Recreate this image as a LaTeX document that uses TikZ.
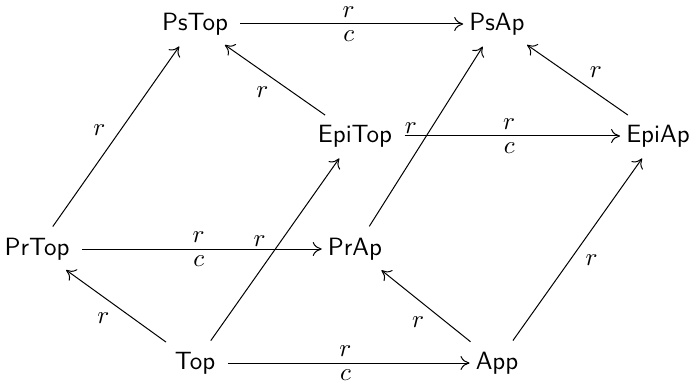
\documentclass[tikz,border=0pt]{standalone}
\usetikzlibrary{arrows.meta}
\begin{document}
\begin{tikzpicture}[x=0.40pt,y=-0.40pt,
  obj/.style={font=\sffamily, inner sep=0pt, outer sep=2.5pt},
  mor/.style={-{To[length=3.6pt,width=5.6pt]}, line width=0.4pt, shorten <=2.5pt},
  diag/.style={mor, shorten >=2.5pt},
  lab/.style={inner sep=2.5pt, auto}]
\useasboundingbox (0,0) rectangle (690,385);
\node[obj] (PsTop) at (195,24) {PsTop};
\node[obj] (PsAp) at (497,24) {PsAp};
\node[obj] (EpiTop) at (355,136) {EpiTop};
\node[obj] (EpiAp) at (658,136) {EpiAp};
\node[obj] (PrTop) at (37,249) {PrTop};
\node[obj] (PrAp) at (355,249) {PrAp};
\node[obj] (Top) at (195,363) {Top};
\node[obj] (App) at (497,363) {App};
\draw[mor] (PsTop) -- node[lab]{$r$} node[lab,swap]{$c$} (PsAp);
\draw[mor] (EpiTop) -- node[lab]{$r$} node[lab,swap]{$c$} (EpiAp);
\draw[mor] (PrTop) -- node[lab]{$r$} node[lab,swap]{$c$} (PrAp);
\draw[mor] (Top) -- node[lab]{$r$} node[lab,swap]{$c$} (App);
\draw[diag] (PrTop) -- node[lab,pos=0.47]{$r$} (PsTop);
\draw[diag] (EpiTop) -- node[lab,pos=0.5]{$r$} (PsTop);
\draw[diag] (Top) -- node[lab,pos=0.48]{$r$} (EpiTop);
\draw[diag] (Top) -- node[lab,pos=0.5]{$r$} (PrTop);
\draw[diag] (PrAp) -- node[lab,pos=0.48]{$r$} (PsAp);
\draw[diag] (EpiAp) -- node[lab,swap,pos=0.45]{$r$} (PsAp);
\draw[diag] (App) -- node[lab,swap,pos=0.51]{$r$} (EpiAp);
\draw[diag] (App) -- node[lab,pos=0.45]{$r$} (PrAp);
\end{tikzpicture}
\end{document}
